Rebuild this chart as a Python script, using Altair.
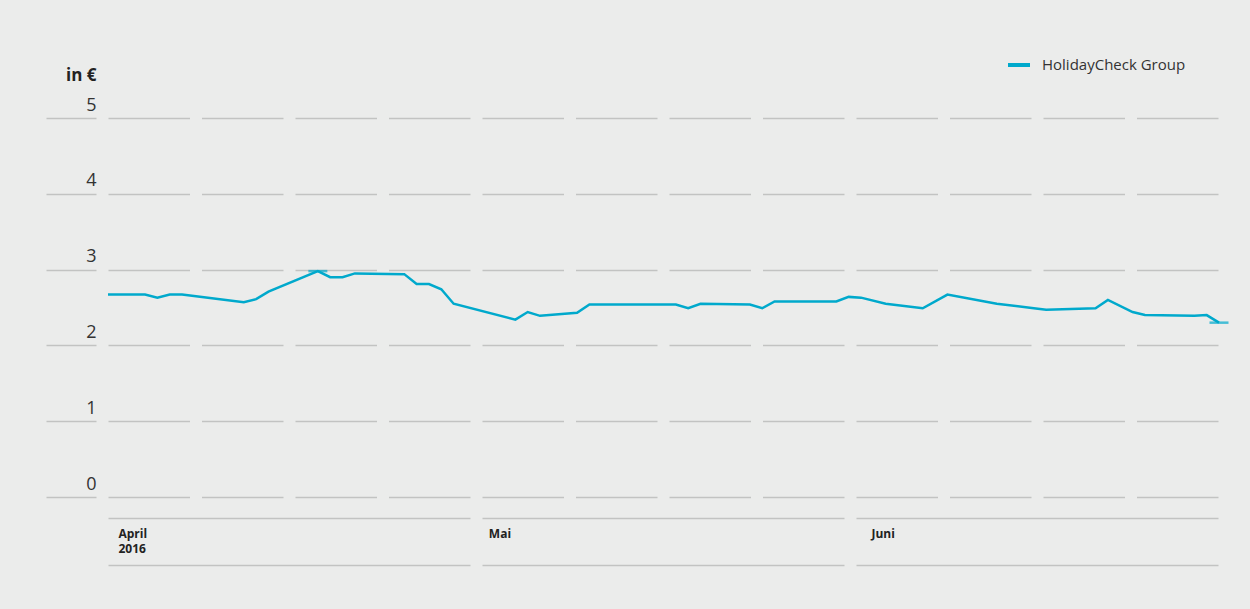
import altair as alt
import pandas as pd

# ---- data ----
series = ["HolidayCheck Group"]
dates = ["2016-04-01", "2016-04-04", "2016-04-05", "2016-04-06", "2016-04-07",
         "2016-04-12", "2016-04-13", "2016-04-14", "2016-04-18", "2016-04-19",
         "2016-04-20", "2016-04-21", "2016-04-25", "2016-04-26", "2016-04-27",
         "2016-04-28", "2016-04-29", "2016-05-04", "2016-05-05", "2016-05-06",
         "2016-05-09", "2016-05-10", "2016-05-17", "2016-05-18", "2016-05-19",
         "2016-05-23", "2016-05-24", "2016-05-25", "2016-05-30", "2016-05-31",
         "2016-06-01", "2016-06-03", "2016-06-06", "2016-06-08", "2016-06-12",
         "2016-06-15", "2016-06-16", "2016-06-20", "2016-06-21", "2016-06-23",
         "2016-06-24", "2016-06-28", "2016-06-29", "2016-06-30"]
prices = [2.67, 2.67, 2.63, 2.67, 2.67,
          2.57, 2.61, 2.71, 2.98, 2.90,
          2.90, 2.95, 2.94, 2.81, 2.81,
          2.74, 2.55, 2.34, 2.44, 2.39,
          2.43, 2.54, 2.54, 2.49, 2.55,
          2.54, 2.49, 2.58, 2.58, 2.64,
          2.63, 2.55, 2.49, 2.67, 2.55,
          2.49, 2.47, 2.49, 2.60, 2.44,
          2.40, 2.39, 2.40, 2.30]
y_ticks = [0, 1, 2, 3, 4, 5]
month_starts = [(2016, 4, 1), (2016, 5, 1), (2016, 6, 1)]
x_domain = [(2016, 4, 1), (2016, 6, 30)]

df = pd.DataFrame({"date": dates, "price": prices, "series": series[0]})
extremes = df.loc[[df["price"].idxmax(), df["price"].idxmin()]]

LINE = "#00a9cc"
GRID = "#c2c3c2"
BG = "#ebeceb"
FONT = "Open Sans"


def dt(t):
    return alt.DateTime(year=t[0], month=t[1], date=t[2], utc=True)


xscale = alt.Scale(type="utc", domain=[dt(t) for t in x_domain], nice=False)
yscale = alt.Scale(domain=[0, 5], nice=False)

yaxis = alt.Axis(
    values=y_ticks, grid=True, gridColor=GRID, gridWidth=1.5, gridDash=[81.5, 12],
    domain=False, ticks=True, tickSize=50, tickColor=GRID, tickWidth=1.5, offset=12,
    labelPadding=-50, labelAlign="right", labelBaseline="alphabetic", labelOffset=-8,
    labelFontSize=18, labelColor="#333333", labelFont=FONT,
    title="in €", titleAngle=0, titleAlign="right", titleX=0, titleY=-38,
    titleBaseline="alphabetic", titleFontSize=17, titleFontWeight="bold",
    titleColor="#222222", titleFont=FONT,
)

xaxis_top = alt.Axis(
    orient="bottom", offset=21, values=[dt(t) for t in month_starts],
    grid=False, ticks=False, domain=True, domainColor=GRID, domainWidth=1.5,
    domainDash=[362, 12],
    labelExpr="utcmonth(datum.value)==3 ? ['April','2016'] : (utcmonth(datum.value)==4 ? 'Mai' : 'Juni')",
    labelAlign="left", labelBaseline="top", labelOffset=10, labelPadding=10,
    labelFontSize=12, labelFontWeight="bold", labelColor="#222222", labelFont=FONT,
    labelLineHeight=15, labelFlush=False, labelOverlap=False, labelBound=False,
    title=None,
)

xaxis_bottom = alt.Axis(
    orient="bottom", offset=68, values=[dt(t) for t in month_starts],
    grid=False, ticks=False, labels=False, domain=True, domainColor=GRID,
    domainWidth=1.5, domainDash=[362, 12], title=None,
)

line = alt.Chart(df).mark_line(strokeWidth=2.5).encode(
    x=alt.X("date:T", scale=xscale, axis=xaxis_top),
    y=alt.Y("price:Q", scale=yscale, axis=yaxis),
    color=alt.Color(
        "series:N",
        scale=alt.Scale(domain=series, range=[LINE]),
        legend=alt.Legend(
            orient="none", legendX=898, legendY=-66, title=None,
            symbolType="stroke", symbolStrokeWidth=4, symbolSize=484,
            labelFontSize=15, labelFont=FONT, labelColor="#333333",
            labelOffset=10, padding=0,
        ),
    ),
)

marks = alt.Chart(extremes).mark_tick(
    orient="horizontal", size=19, thickness=2.5, color=LINE
).encode(
    x=alt.X("date:T", scale=xscale, axis=xaxis_bottom),
    y=alt.Y("price:Q", scale=yscale, axis=yaxis),
)

chart = (
    alt.layer(line, marks)
    .resolve_axis(x="independent")
    .properties(
        width=1111, height=379,
        autosize=alt.AutoSizeParams(type="none"),
        padding={"left": 108, "top": 118, "right": 31, "bottom": 112},
        background=BG,
        view=alt.ViewBackground(stroke="transparent", strokeWidth=0),
    )
    .configure_view(stroke="transparent", strokeWidth=0)
    .configure(font=FONT)
)

chart.save("out.html", embed_options={"renderer": "svg", "actions": False})
